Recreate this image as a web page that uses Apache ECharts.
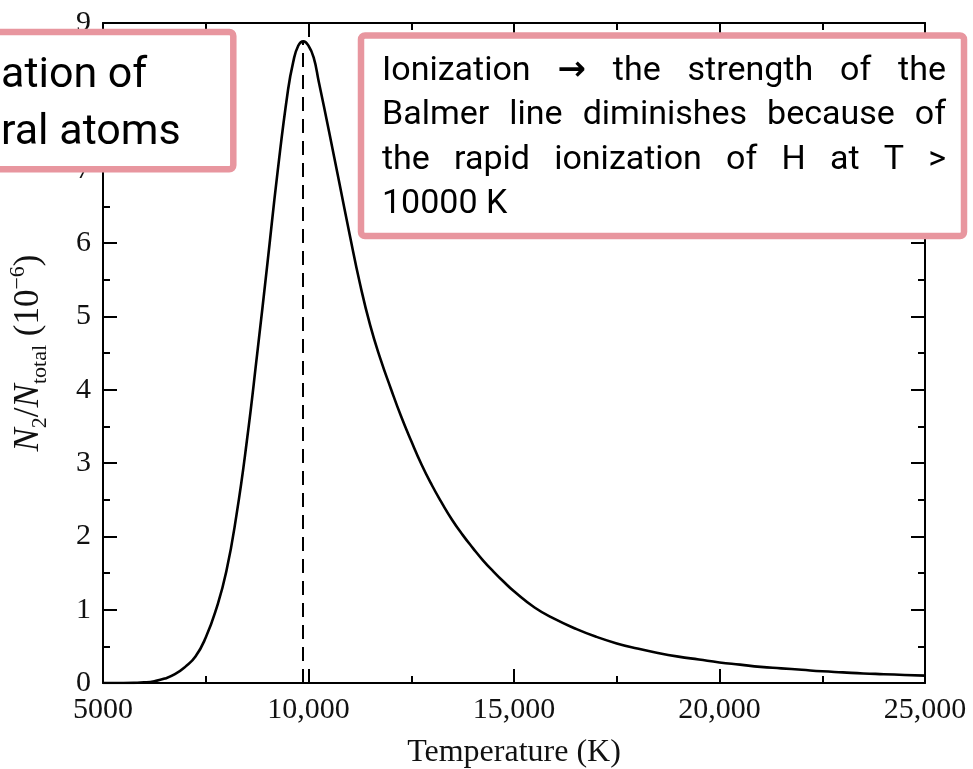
<!DOCTYPE html>
<html>
<head>
<meta charset="utf-8">
<script src="https://cdn.jsdelivr.net/npm/echarts@6/dist/echarts.min.js"></script>
<style>
html,body{margin:0;padding:0;background:#fff;}
#chart{width:973px;height:769px;}
</style>
</head>
<body>
<div id="chart"></div>
<script>
// ---- data ----
var temperatures = [5000, 5250, 5500, 5750, 6000, 6250, 6500, 6750, 7000, 7250, 7500, 7750, 8000, 8250, 8500, 8750, 9000, 9250, 9500, 9625, 9750, 9875, 10000, 10125, 10250, 10500, 10750, 11000, 11250, 11500, 11750, 12000, 12250, 12500, 12750, 13000, 13250, 13500, 13750, 14000, 14250, 14500, 14750, 15000, 15500, 16000, 16500, 17000, 17500, 18000, 18500, 19000, 19500, 20000, 20500, 21000, 21500, 22000, 22500, 23000, 23500, 24000, 24500, 25000];
var ratios = [0, 0, 0, 0.002, 0.008, 0.025, 0.06, 0.12, 0.22, 0.36, 0.62, 1.0, 1.52, 2.3, 3.3, 4.48, 5.72, 6.98, 8.08, 8.46, 8.69, 8.75, 8.69, 8.53, 8.2, 7.52, 6.82, 6.12, 5.45, 4.88, 4.42, 4.02, 3.64, 3.3, 2.98, 2.7, 2.45, 2.22, 2.02, 1.84, 1.67, 1.52, 1.38, 1.25, 1.03, 0.87, 0.74, 0.63, 0.54, 0.47, 0.41, 0.36, 0.32, 0.28, 0.25, 0.22, 0.2, 0.18, 0.16, 0.145, 0.13, 0.12, 0.11, 0.10];
var peakTemperature = 9850;
var peakRatio = 8.74;
var xTickValues = [5000, 10000, 15000, 20000, 25000];
var xTickLabels = ['5000', '10,000', '15,000', '20,000', '25,000'];
var yTickLabels = ['0', '1', '2', '3', '4', '5', '6', '7', '8', '9'];
var xAxisTitle = 'Temperature (K)';
var annotationLeft = ['ation of', 'ral atoms'];
var annotationRight = [
  ['Ionization', '\u2192', 'the', 'strength', 'of', 'the'],
  ['Balmer', 'line', 'diminishes', 'because', 'of'],
  ['the', 'rapid', 'ionization', 'of', 'H', 'at', 'T', '>'],
  ['10000 K']
];

var seriesData = temperatures.map(function (t, i) { return [t, ratios[i]]; });

var serif = 'Liberation Serif';
var sans = 'Roboto';
var pink = '#e8969f';

var canvas = document.createElement('canvas');
var ctx = canvas.getContext('2d');

var graphics = [];
graphics.push({
  type: 'rect', z: 100,
  shape: { x: -20, y: 32, width: 253.3, height: 137.3, r: 4 },
  style: { fill: '#fff', stroke: pink, lineWidth: 6.5 }
});
graphics.push({
  type: 'rect', z: 100,
  shape: { x: 361, y: 35.5, width: 603, height: 200.5, r: 4 },
  style: { fill: '#fff', stroke: pink, lineWidth: 6.5 }
});
var leftFont = '43px ' + sans;
var leftMid = [76, 133];
annotationLeft.forEach(function (line, i) {
  graphics.push({
    type: 'text', z: 101, x: 1, y: leftMid[i],
    style: { text: line, font: leftFont, fill: '#000', textAlign: 'left', textVerticalAlign: 'middle' }
  });
});
var rightFont = '34px ' + sans;
var arrowFont = 'bold 34px DejaVu Sans';
var rightMid = [71.5, 115.8, 160.1, 204.4];
var textLeft = 382, textRight = 946;
annotationRight.forEach(function (words, i) {
  var justify = i < annotationRight.length - 1 && words.length > 1;
  var fonts = words.map(function (w) { return w === '\u2192' ? arrowFont : rightFont; });
  var widths = words.map(function (w, k) { ctx.font = fonts[k]; return ctx.measureText(w).width; });
  var total = widths.reduce(function (a, b) { return a + b; }, 0);
  ctx.font = rightFont;
  var gap = justify ? (textRight - textLeft - total) / (words.length - 1) : ctx.measureText(' ').width;
  var x = textLeft;
  words.forEach(function (w, k) {
    graphics.push({
      type: 'text', z: 101, x: x, y: rightMid[i],
      style: { text: w, font: fonts[k], fill: '#000', textAlign: 'left', textVerticalAlign: 'middle' }
    });
    x += widths[k] + gap;
  });
});

var axisLineStyle = { color: '#000', width: 2 };
function xAxisBase(pos, showLabels) {
  return {
    type: 'value', position: pos, min: 5000, max: 25000, interval: 5000,
    axisLine: { show: true, onZero: false, lineStyle: axisLineStyle },
    axisTick: { show: true, inside: true, length: 14, lineStyle: { color: '#000', width: 2 } },
    minorTick: { show: true, splitNumber: 2, length: 7, lineStyle: { color: '#000', width: 2 } },
    splitLine: { show: false },
    minorSplitLine: { show: false },
    axisLabel: {
      show: showLabels, margin: 12, fontFamily: serif, fontSize: 30, color: '#111',
      formatter: function (v) { var k = xTickValues.indexOf(v); return k >= 0 ? xTickLabels[k] : ''; }
    }
  };
}
function yAxisBase(pos, showLabels) {
  return {
    type: 'value', position: pos, min: 0, max: 9, interval: 1,
    axisLine: { show: true, onZero: false, lineStyle: axisLineStyle },
    axisTick: { show: true, inside: true, length: 14, lineStyle: { color: '#000', width: 2 } },
    minorTick: { show: true, splitNumber: 2, length: 7, lineStyle: { color: '#000', width: 2 } },
    splitLine: { show: false },
    minorSplitLine: { show: false },
    axisLabel: {
      show: showLabels, margin: 12, fontFamily: serif, fontSize: 30, color: '#111',
      formatter: function (v) { return yTickLabels[Math.round(v)] || ''; }
    }
  };
}

var xBottom = xAxisBase('bottom', true);
xBottom.name = xAxisTitle;
xBottom.nameLocation = 'middle';
xBottom.nameGap = 54;
xBottom.nameTextStyle = { fontFamily: serif, fontSize: 32, color: '#111' };

var yLeft = yAxisBase('left', true);
yLeft.name = '{i|N}{s|2}{r|/}{i|N}{s|total}{r| (10}{p|\u22126}{r|)}';
yLeft.nameLocation = 'middle';
yLeft.nameGap = 52;
yLeft.nameTextStyle = {
  fontFamily: serif, fontSize: 35, color: '#111', lineHeight: 44,
  rich: {
    i: { fontFamily: serif, fontSize: 35, fontStyle: 'italic', color: '#111', lineHeight: 44 },
    r: { fontFamily: serif, fontSize: 35, color: '#111', lineHeight: 44 },
    s: { fontFamily: serif, fontSize: 22, color: '#111', lineHeight: 22, verticalAlign: 'bottom' },
    p: { fontFamily: serif, fontSize: 22, color: '#111', lineHeight: 22, verticalAlign: 'top' }
  }
};

var chart = echarts.init(document.getElementById('chart'), null, { renderer: 'canvas' });
chart.setOption({
  animation: false,
  backgroundColor: '#fff',
  grid: { left: 103, right: 48, top: 23, bottom: 86, containLabel: false, outerBoundsMode: 'none' },
  xAxis: [xBottom, xAxisBase('top', false)],
  yAxis: [yLeft, yAxisBase('right', false)],
  series: [{
    type: 'line',
    data: seriesData,
    xAxisIndex: 0, yAxisIndex: 0,
    showSymbol: false, symbol: 'none',
    smooth: 0.5,
    lineStyle: { color: '#000', width: 2.6 },
    markLine: {
      silent: true, symbol: 'none',
      label: { show: false },
      lineStyle: { color: '#000', width: 2, type: [14, 8] },
      data: [[{ coord: [peakTemperature, 0] }, { coord: [peakTemperature, peakRatio] }]]
    }
  }],
  graphic: graphics
});
</script>
</body>
</html>
